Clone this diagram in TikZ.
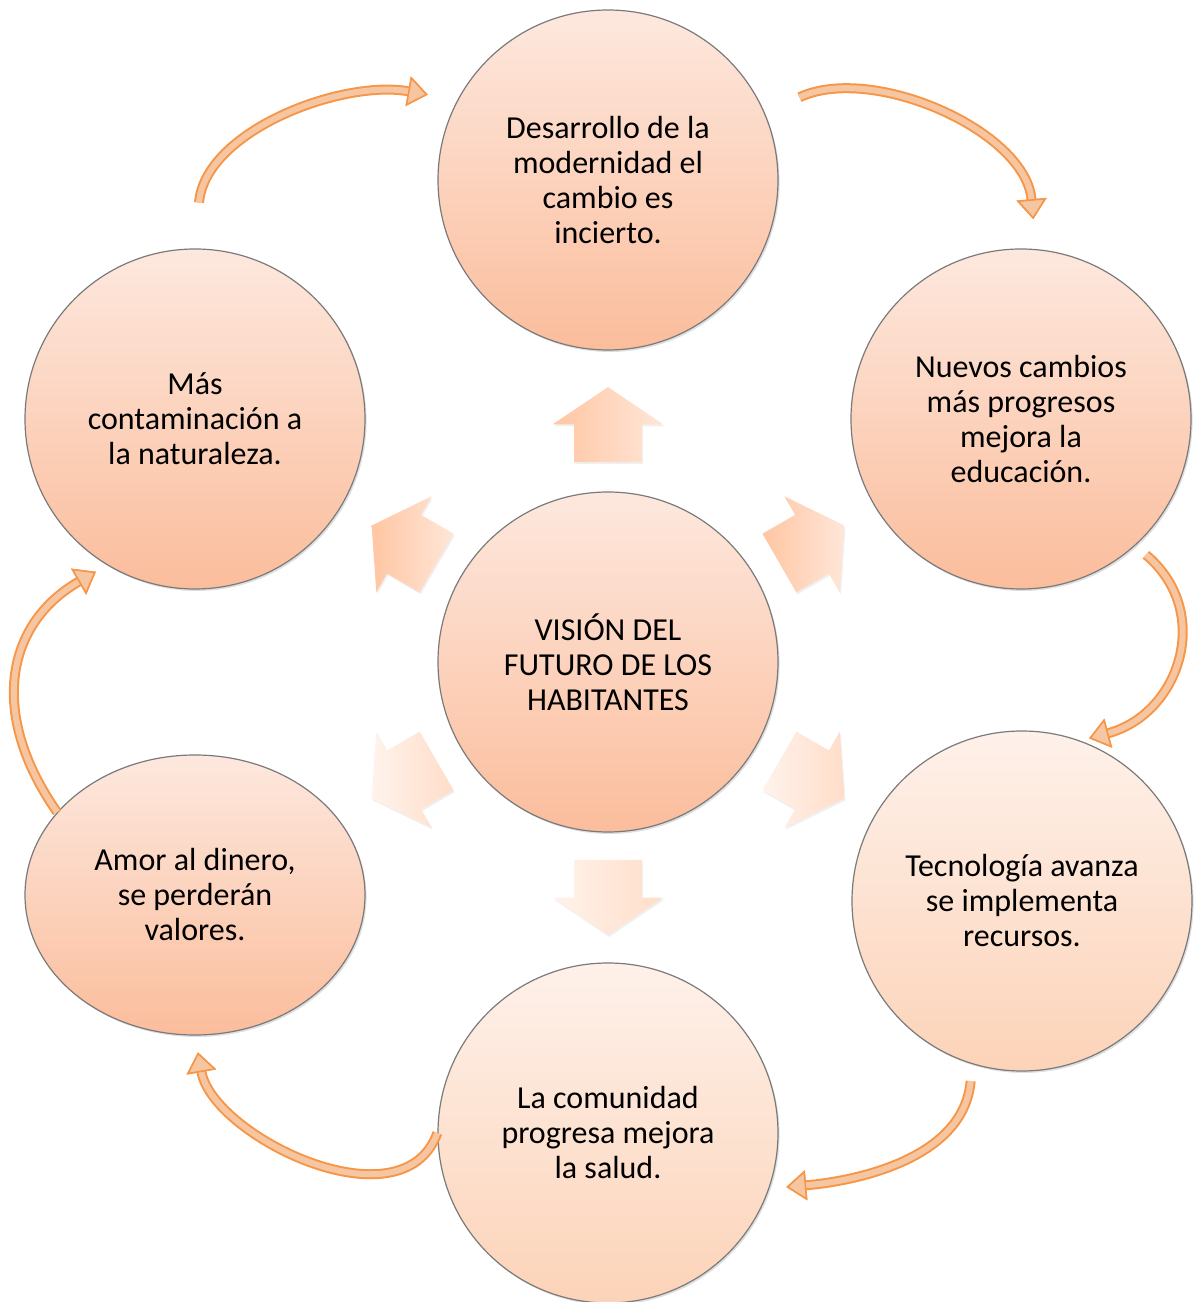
\documentclass[tikz,border=0pt]{standalone}
\usepackage{fontspec}
\setmainfont{Carlito}
\usetikzlibrary{arrows.meta, shapes.geometric, shapes.arrows, shadows, calc, positioning}
\definecolor{circtop}{HTML}{FDE8DE}
\definecolor{circbot}{HTML}{FBBD9C}
\definecolor{circtoplight}{HTML}{FEF1EA}
\definecolor{circbotlight}{HTML}{FCD3B8}
\definecolor{circedge}{HTML}{7A7A7A}
\definecolor{arrdark}{HTML}{FFC6A3}
\definecolor{arrlight}{HTML}{FFE6D8}
\definecolor{arrpale}{HTML}{FFF3EC}
\definecolor{arrmid}{HTML}{FFDDC8}
\definecolor{ciclodraw}{HTML}{F79646}
\definecolor{ciclofill}{HTML}{F6C6A2}
\tikzset{
  % outer and center circles
  circnode/.style={
    circle
    , draw=circedge
    , line width=0.6pt
    , top color=circtop
    , bottom color=circbot
    , minimum size=170pt
    , inner sep=0pt
    , align=center
    , font=\fontsize{16}{17.5}\selectfont
    , drop shadow={opacity=0.25, shadow xshift=0.8pt, shadow yshift=-1pt}
  },
  % lighter circles at the bottom
  circlight/.style={
    top color=circtoplight
    , bottom color=circbotlight
  },
}
\tikzset{
  % block arrows round the center
  outarr/.style={
    single arrow
    , draw=none
    , minimum height=37.5pt
    , single arrow head extend=10.75pt
    , single arrow tip angle=112
    , inner xsep=0pt
    , inner ysep=16.75pt
    , drop shadow={opacity=0.12, shadow xshift=0.6pt, shadow yshift=-1pt}
  },
  outarrup/.style={
    outarr
    , left color=arrdark
    , right color=arrlight
  },
  outarrdown/.style={
    outarr
    , left color=arrpale
    , right color=arrmid
  },
}
\tikzset{
  % curved cycle arrows
  ctip/.tip={Triangle[length=10pt, width=15pt, line width=0.8pt, fill=ciclofill, color=ciclodraw]},
  cicloarr/.style={
    draw=ciclodraw
    , line width=5pt
    , -{ctip}
    , postaction={draw=ciclofill, line width=3pt, -{ctip}}
  },
}
\begin{document}
\begin{tikzpicture}[x=0.5pt, y=0.5pt]
  \useasboundingbox (0,0) rectangle (1202,1302);
  \node[circnode] (ctr) at (608,640) {VISIÓN DEL\\FUTURO DE LOS\\HABITANTES};
  \node[circnode] (top) at (608,1122) {Desarrollo de la\\modernidad el\\cambio es\\incierto.};
  \node[circnode] (ur) at (1021,883) {Nuevos cambios\\más progresos\\mejora la\\educación.};
  \node[circnode, circlight] (lr) at (1022,401) {Tecnología avanza\\se implementa\\recursos.};
  \node[circnode, circlight] (bot) at (608,169) {La comunidad\\progresa mejora\\la salud.};
  \node[circnode, ellipse, minimum width=170pt, minimum height=140pt] (ll) at (195,407) {Amor al dinero,\\se perderán\\valores.};
  \node[circnode] (ul) at (195,883) {Más\\contaminación a\\la naturaleza.};

  % block arrows
  \node[outarrup, rotate=90] (aup) at ($(ctr)+(90:113pt)$) {};
  \node[outarrup, rotate=150] (aul) at ($(ctr)+(150:112pt)$) {};
  \node[outarrup, rotate=30] (aur) at ($(ctr)+(30:112pt)$) {};
  \node[outarrdown, rotate=-90] (adown) at ($(ctr)+(-90:112pt)$) {};
  \node[outarrdown, rotate=210] (all) at ($(ctr)+(210:112pt)$) {};
  \node[outarrdown, rotate=-30] (alr) at ($(ctr)+(-30:112pt)$) {};

  % cycle
  \draw[cicloarr, shorten <=23pt, shorten >=15pt]
    (ul.north) to[out=85, in=170] (top.152);
  \draw[cicloarr, shorten <=19pt, shorten >=15pt]
    (top.23) to[out=25, in=95] (ur.85);
  \draw[cicloarr, shorten <=7pt, shorten >=4.5pt]
    (ur.-48) to[out=-40, in=15, looseness=1.3] (lr.70);
  \draw[cicloarr, shorten <=8.5pt, shorten >=8.5pt]
    (lr.-107) to[out=-95, in=5] (bot.-19);
  \draw[cicloarr, shorten >=8.5pt]
    (bot.west) to[out=250, in=-80] (ll.south);
  \draw[cicloarr, shorten >=6.5pt]
    (ll.149) to[out=125, in=210, looseness=1.2] (ul.239);
\end{tikzpicture}
\end{document}
